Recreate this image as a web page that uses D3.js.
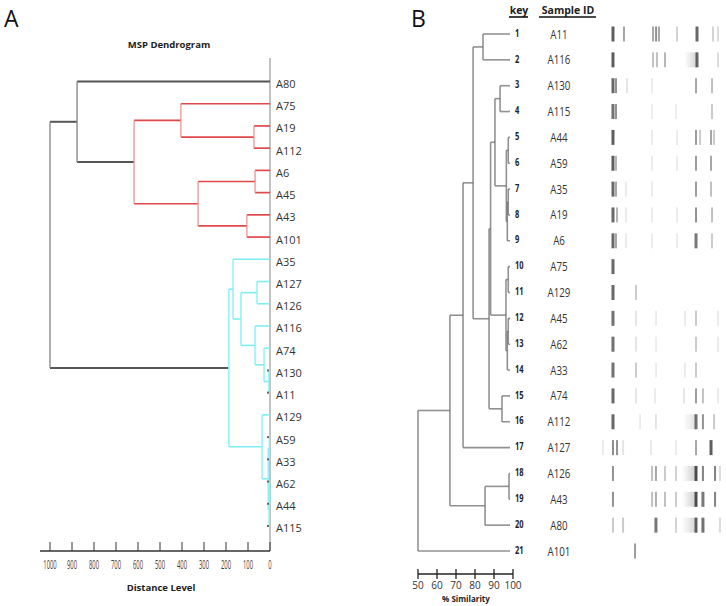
<!DOCTYPE html>
<html><head><meta charset="utf-8">
<script src="https://cdn.jsdelivr.net/npm/d3@7"></script>
<style>
body{margin:0;background:#fff;}
svg{display:block;}
text{font-family:"Open Sans",Lato,sans-serif;}
</style></head><body>
<svg id="chart" width="726" height="606"></svg>
<script>
// ---------- Panel A data ----------
const panelATitle = "MSP Dendrogram";
const panelAXTitle = "Distance Level";
const distanceTicks = [1000, 900, 800, 700, 600, 500, 400, 300, 200, 100, 0];
// nested [height, [children]] ; leaves are sample names
const treeA = [1000, [
  [877, ["A80",
    [618, [
      [405, ["A75", [73, ["A19", "A112"]]]],
      [327, [[68, ["A6", "A45"]], [105, ["A43", "A101"]]]]
    ]]
  ]],
  [187, [
    [168, ["A35",
      [132, [
        [59, ["A127", "A126"]],
        [68, ["A116", [27, ["A74", [5, ["A130", "A11"]]]]]]
      ]]
    ]],
    [36, ["A129",
      [8, [[3, ["A59", "A33"]], [4, [[1, ["A62", "A44"]], "A115"]]]]
    ]]
  ]]
]];
const redCluster = ["A75", "A19", "A112", "A6", "A45", "A43", "A101"];
const cyanCluster = ["A35", "A127", "A126", "A116", "A74", "A130", "A11", "A129", "A59", "A33", "A62", "A44", "A115"];

// ---------- Panel B data ----------
const keys = d3.range(1, 22).map(String);
const sampleIDs = ["A11", "A116", "A130", "A115", "A44", "A59", "A35", "A19", "A6", "A75", "A129",
  "A45", "A62", "A33", "A74", "A112", "A127", "A126", "A43", "A80", "A101"];
const similarityTicks = [50, 60, 70, 80, 90, 100];
const treeB = [50, [
  [66.8, [
    [73.7, [
      [79, [
        [84.2, ["1", "2"]],
        [87.4, [
          [88.2, [
            [90.5, [
              [93.2, ["3", "4"]],
              [96.5, [[97.5, ["5", "6"]], [97, [[97.5, ["7", "8"]], "9"]]]]
            ]],
            [96.3, [[97.5, ["10", "11"]], [97, [[97.5, ["12", "13"]], "14"]]]]
          ]],
          [94.2, ["15", "16"]]
        ]]
      ]],
      "17"
    ]],
    [85.3, [[97.9, ["18", "19"]], "20"]]
  ]],
  "21"
]];
// band patterns per lane: [relative mobility, intensity]
const bands = [
  [[.103,.9],[.19,.5],[.421,.5],[.445,.6],[.468,.5],[.611,.25],[.77,.85],[.897,.25],[.937,.2]],
  [[.103,.9],[.421,.35],[.452,.35],[.516,.4],[.77,.85],[.937,.2]],
  [[.103,.85],[.127,.6],[.214,.15],[.413,.1],[.762,.5],[.889,.35]],
  [[.103,.8],[.127,.6],[.413,.08],[.603,.08],[.889,.3]],
  [[.103,.9],[.413,.1],[.611,.1],[.762,.55],[.794,.3],[.881,.5],[.905,.3]],
  [[.103,.9],[.127,.4],[.413,.1],[.611,.1],[.762,.55],[.881,.5]],
  [[.103,.85],[.127,.5],[.206,.12],[.413,.1],[.762,.55],[.881,.35]],
  [[.103,.85],[.135,.4],[.206,.12],[.413,.1],[.611,.1],[.762,.6],[.889,.35]],
  [[.103,.85],[.127,.5],[.206,.12],[.413,.1],[.611,.1],[.762,.75],[.889,.3]],
  [[.103,.85]],
  [[.103,.85],[.286,.3]],
  [[.103,.8],[.286,.15],[.444,.1],[.675,.12],[.762,.3],[.937,.12]],
  [[.103,.8],[.286,.15],[.444,.1],[.762,.3],[.937,.12]],
  [[.103,.8],[.286,.3],[.444,.1],[.675,.1],[.762,.3]],
  [[.103,.85],[.286,.15],[.437,.12],[.667,.15],[.762,.55],[.817,.35],[.937,.12]],
  [[.103,.85],[.317,.1],[.444,.15],[.762,.8],[.817,.6],[.905,.3]],
  [[.024,.1],[.103,.65],[.135,.6],[.183,.15],[.405,.12],[.603,.1],[.762,.5],[.881,.9]],
  [[.103,.6],[.413,.35],[.444,.5],[.516,.3],[.603,.25],[.762,.95],[.817,.7],[.913,.7],[.952,.2]],
  [[.103,.6],[.413,.35],[.444,.45],[.516,.35],[.603,.3],[.762,.95],[.817,.75],[.913,.7]],
  [[.103,.3],[.183,.3],[.444,.75],[.603,.25],[.762,.85],[.817,.8],[.952,.2]],
  [[.278,.55]]
];
// diffuse smears: [lane index, start mobility, end mobility, intensity]
const smears = [[1,.67,.77,.3],[15,.66,.76,.2],[17,.65,.77,.35],[18,.65,.77,.35],[19,.65,.77,.3]];

// ---------- helpers ----------
function build(n) {
  if (typeof n === "string") return {name: n, h: null};
  return {h: n[0], children: n[1].map(build)};
}
const svg = d3.select("#chart");
svg.append("rect").attr("width", 726).attr("height", 606).attr("fill", "#fff");

// ================= Panel A =================
const gA = svg.append("g");
gA.append("text").attr("x", 4).attr("y", 27).attr("font-size", 23).attr("fill", "#111").text("A");
gA.append("text").attr("x", 169).attr("y", 48).attr("text-anchor", "middle")
  .attr("font-size", 9.5).attr("font-weight", "bold").attr("fill", "#222").text(panelATitle);

const rootA = d3.hierarchy(build(treeA));
rootA.leaves().forEach(l => l.data.h = 0);
const xA = d3.scaleLinear().domain([0, 1000]).range([270, 50]);
const leafNamesA = rootA.leaves().map(l => l.data.name);
const yA = d3.scalePoint().domain(leafNamesA).range([81.5, 526]);
rootA.eachAfter(n => {
  n.py = n.children ? d3.mean(n.children, c => c.py) : yA(n.data.name);
  n.px = xA(n.data.h);
});
const inSet = (n, set) => n.leaves().every(l => set.includes(l.data.name));
const styleA = n => {
  if (inSet(n, redCluster)) return {v: "#f08a8a", h: "#e0484a", vw: 1.2, hw: 1.7};
  if (inSet(n, cyanCluster)) return {v: "#86f2f4", h: "#7eeef2", vw: 1.4, hw: 1.6};
  return {v: "#8a8a8a", h: "#555", vw: 1.4, hw: 2};
};
gA.append("line").attr("x1", xA(0)).attr("x2", xA(0)).attr("y1", 58).attr("y2", 551)
  .attr("stroke", "#999").attr("stroke-width", 1.2);

rootA.descendants().filter(n => n.children).forEach(n => {
  const s = styleA(n);
  n.children.forEach(c => {
    gA.append("line").attr("x1", n.px).attr("x2", c.px).attr("y1", c.py).attr("y2", c.py)
      .attr("stroke", s.h).attr("stroke-width", s.hw);
  });
  gA.append("line").attr("x1", n.px).attr("x2", n.px)
    .attr("y1", d3.min(n.children, c => c.py)).attr("y2", d3.max(n.children, c => c.py))
    .attr("stroke", s.v).attr("stroke-width", s.vw);
});
rootA.leaves().filter(l => l.parent.data.h < 10).forEach(l => {
  gA.append("rect").attr("x", xA(0) - 3).attr("y", l.py - 1).attr("width", 2).attr("height", 2).attr("fill", "#666");
});
gA.selectAll("text.leafA").data(rootA.leaves()).join("text").attr("class", "leafA")
  .attr("x", xA(0) + 6).attr("y", d => d.py + 3.5).attr("dominant-baseline", "middle")
  .attr("font-size", 11).attr("fill", "#333").text(d => d.data.name);

const axY = 551;
gA.append("line").attr("x1", 40).attr("x2", xA(0)).attr("y1", axY).attr("y2", axY)
  .attr("stroke", "#333").attr("stroke-width", 1.5);
distanceTicks.forEach(t => {
  gA.append("line").attr("x1", xA(t)).attr("x2", xA(t)).attr("y1", axY - 9).attr("y2", axY)
    .attr("stroke", "#333").attr("stroke-width", 1);
  gA.append("text").attr("transform", `translate(${xA(t)},${axY + 18}) scale(0.45,1)`)
    .attr("text-anchor", "middle").attr("font-size", 13).attr("font-family", "DejaVu Sans")
    .attr("fill", "#444").text(t);
});
gA.append("text").attr("x", 161).attr("y", 591).attr("text-anchor", "middle")
  .attr("font-size", 9.5).attr("font-weight", "bold").attr("fill", "#222").text(panelAXTitle);

// ================= Panel B =================
const gB = svg.append("g");
gB.append("text").attr("x", 411).attr("y", 27).attr("font-size", 23).attr("fill", "#111").text("B");
gB.append("text").attr("x", 519).attr("y", 11).attr("text-anchor", "middle").attr("dominant-baseline", "middle")
  .attr("font-size", 10.5).attr("font-weight", "bold").attr("fill", "#222").text("key");
gB.append("line").attr("x1", 509).attr("x2", 528).attr("y1", 17).attr("y2", 17).attr("stroke", "#111").attr("stroke-width", 1.6);
gB.append("text").attr("x", 568).attr("y", 11).attr("text-anchor", "middle").attr("dominant-baseline", "middle")
  .attr("font-size", 10.5).attr("font-weight", "bold").attr("fill", "#222").text("Sample ID");
gB.append("line").attr("x1", 539).attr("x2", 596).attr("y1", 17).attr("y2", 17).attr("stroke", "#111").attr("stroke-width", 1.6);

const rowY = d3.scalePoint().domain(keys).range([34, 551]);
const xB = d3.scaleLinear().domain([50, 100]).range([418, 513]);
const rootB = d3.hierarchy(build(treeB));
rootB.eachAfter(n => {
  n.py = n.children ? d3.mean(n.children, c => c.py) : rowY(n.data.name);
  n.px = n.children ? xB(n.data.h) : xB(100) - 3;
});
rootB.descendants().filter(n => n.children).forEach(n => {
  n.children.forEach(c => {
    gB.append("line").attr("x1", n.px).attr("x2", c.px).attr("y1", c.py).attr("y2", c.py)
      .attr("stroke", "#6e6e6e").attr("stroke-opacity", 0.75).attr("stroke-width", 1.6);
  });
  gB.append("line").attr("x1", n.px).attr("x2", n.px)
    .attr("y1", d3.min(n.children, c => c.py)).attr("y2", d3.max(n.children, c => c.py))
    .attr("stroke", "#6e6e6e").attr("stroke-opacity", 0.75).attr("stroke-width", 1.6);
});
keys.forEach(k => {
  gB.append("text").attr("transform", `translate(${xB(100) + 2},${rowY(k)}) scale(0.75,1)`)
    .attr("dominant-baseline", "middle").attr("font-size", 10).attr("font-weight", "bold")
    .attr("font-family", "DejaVu Sans").attr("fill", "#222").text(k);
});
sampleIDs.forEach((s, i) => {
  gB.append("text").attr("transform", `translate(559,${rowY(keys[i]) + 1}) scale(0.78,1.05)`)
    .attr("text-anchor", "middle").attr("dominant-baseline", "middle").attr("font-size", 12.5)
    .attr("font-family", "Liberation Sans").attr("fill", "#333").text(s);
});

// gel lanes
const defs = svg.append("defs");
defs.append("filter").attr("id", "soft").append("feGaussianBlur").attr("stdDeviation", 0.6);
const grad = defs.append("linearGradient").attr("id", "smear");
grad.append("stop").attr("offset", "0%").attr("stop-color", "#666").attr("stop-opacity", 0);
grad.append("stop").attr("offset", "100%").attr("stop-color", "#666").attr("stop-opacity", 1);
const xLane = d3.scaleLinear().domain([0, 1]).range([600, 726]);
const laneH = 15;
const gL = gB.append("g").attr("filter", "url(#soft)");
smears.forEach(([i, a, b, v]) => {
  gL.append("rect").attr("x", xLane(a)).attr("width", xLane(b) - xLane(a))
    .attr("y", rowY(keys[i]) - laneH / 2).attr("height", laneH)
    .attr("fill", "url(#smear)").attr("opacity", v);
});
bands.forEach((lane, i) => {
  lane.forEach(([m, v]) => {
    const w = v > 0.7 ? 3 : 2;
    gL.append("rect").attr("x", xLane(m) - w / 2).attr("width", w)
      .attr("y", rowY(keys[i]) - laneH / 2).attr("height", laneH)
      .attr("fill", "#2e2e2e").attr("opacity", v * 0.85);
  });
});

// similarity scale
const sbY = 574;
gB.append("line").attr("x1", xB(50)).attr("x2", xB(100)).attr("y1", sbY).attr("y2", sbY)
  .attr("stroke", "#222").attr("stroke-width", 1.5);
similarityTicks.forEach(t => {
  gB.append("line").attr("x1", xB(t)).attr("x2", xB(t)).attr("y1", sbY - 5).attr("y2", sbY + 5)
    .attr("stroke", "#222").attr("stroke-width", 1.3);
  gB.append("text").attr("x", xB(t)).attr("y", sbY + 12).attr("text-anchor", "middle")
    .attr("dominant-baseline", "middle").attr("font-size", 10).attr("fill", "#333").text(t);
});
gB.append("text").attr("x", 466).attr("y", 600).attr("text-anchor", "middle").attr("dominant-baseline", "middle")
  .attr("font-size", 8).attr("font-weight", "bold").attr("fill", "#222").text("% Similarity");
</script>
</body></html>
